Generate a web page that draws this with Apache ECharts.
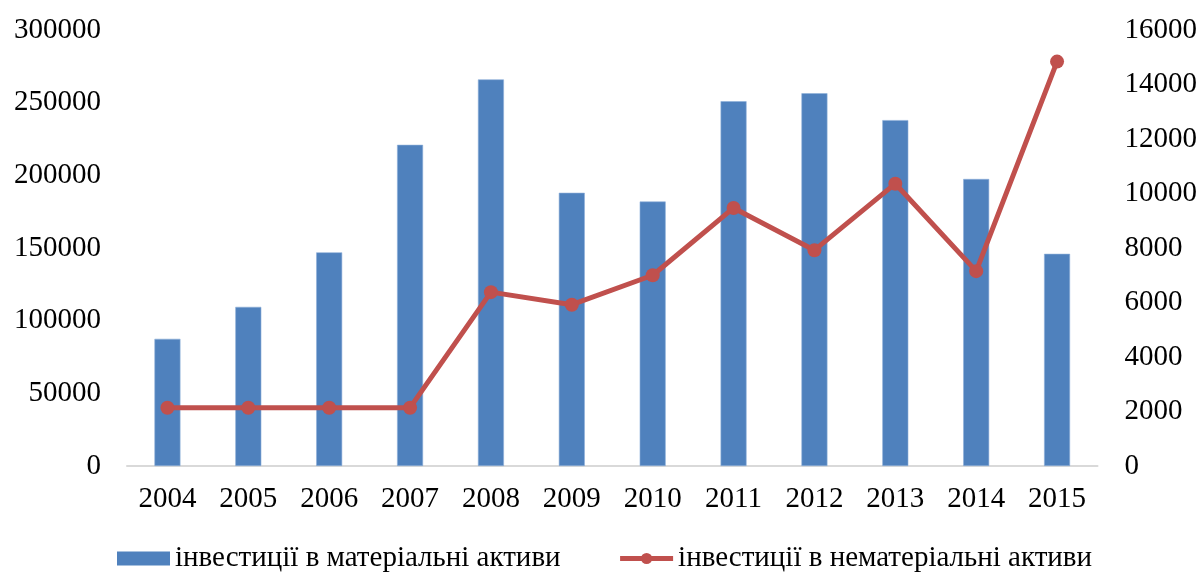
<!DOCTYPE html>
<html>
<head>
<meta charset="utf-8">
<script src="https://cdn.jsdelivr.net/npm/echarts@6/dist/echarts.min.js"></script>
<style>
  html, body { margin: 0; padding: 0; background: #fff; }
  #chart { width: 1200px; height: 573px; }
</style>
</head>
<body>
<div id="chart"></div>
<script>
// роки
const years = ['2004', '2005', '2006', '2007', '2008', '2009', '2010', '2011', '2012', '2013', '2014', '2015'];
// інвестиції в матеріальні активи (ліва вісь)
const tangible = [87500, 109500, 147000, 221000, 266000, 188000, 182000, 251000, 256500, 238000, 197500, 146000];
// інвестиції в нематеріальні активи (права вісь)
const intangible = [2140, 2140, 2140, 2140, 6380, 5920, 7000, 9470, 7920, 10360, 7150, 14840];

const seriesNames = ['інвестиції в матеріальні активи', 'інвестиції в нематеріальні активи'];

const font = 'Liberation Serif, Times New Roman, serif';
const fs = 29;
const chart = echarts.init(document.getElementById('chart'));

const plain = v => String(v); // без роздільників тисяч

const option = {
  animation: false,
  textStyle: { fontFamily: font, color: '#000' },
  grid: { left: 127, right: 102, top: 30, bottom: 107 },
  legend: {
    left: 117,
    bottom: 0,
    padding: 0,
    itemWidth: 53,
    itemHeight: 14,
    itemGap: 57,
    textStyle: { fontFamily: font, fontSize: fs, color: '#000', padding: [0, 0, 0, 0] },
    data: [
      { name: seriesNames[0], icon: 'rect', itemStyle: { borderWidth: 0 } },
      { name: seriesNames[1], lineStyle: { width: 5 } }
    ]
  },
  xAxis: {
    type: 'category',
    data: years,
    axisLine: { lineStyle: { color: '#d9d9d9', width: 2 } },
    axisTick: { show: false },
    axisLabel: { fontFamily: font, fontSize: fs, color: '#000', margin: 19 }
  },
  yAxis: [
    {
      type: 'value',
      min: 0, max: 300000, interval: 50000,
      splitLine: { show: false },
      axisLine: { show: false },
      axisTick: { show: false },
      axisLabel: { fontFamily: font, fontSize: fs, color: '#000', margin: 26, formatter: plain }
    },
    {
      type: 'value',
      min: 0, max: 16000, interval: 2000,
      splitLine: { show: false },
      axisLine: { show: false },
      axisTick: { show: false },
      axisLabel: { fontFamily: font, fontSize: fs, color: '#000', margin: 27, formatter: plain }
    }
  ],
  series: [
    {
      name: seriesNames[0],
      type: 'bar',
      data: tangible,
      barWidth: 26,
      itemStyle: { color: '#4F81BD', borderColor: '#8FB0DA', borderWidth: 0.6 }
    },
    {
      name: seriesNames[1],
      type: 'line',
      yAxisIndex: 1,
      data: intangible,
      symbol: 'circle',
      symbolSize: 14,
      lineStyle: { color: '#C0504D', width: 5 },
      itemStyle: { color: '#C0504D' }
    }
  ]
};

chart.setOption(option);
</script>
</body>
</html>
